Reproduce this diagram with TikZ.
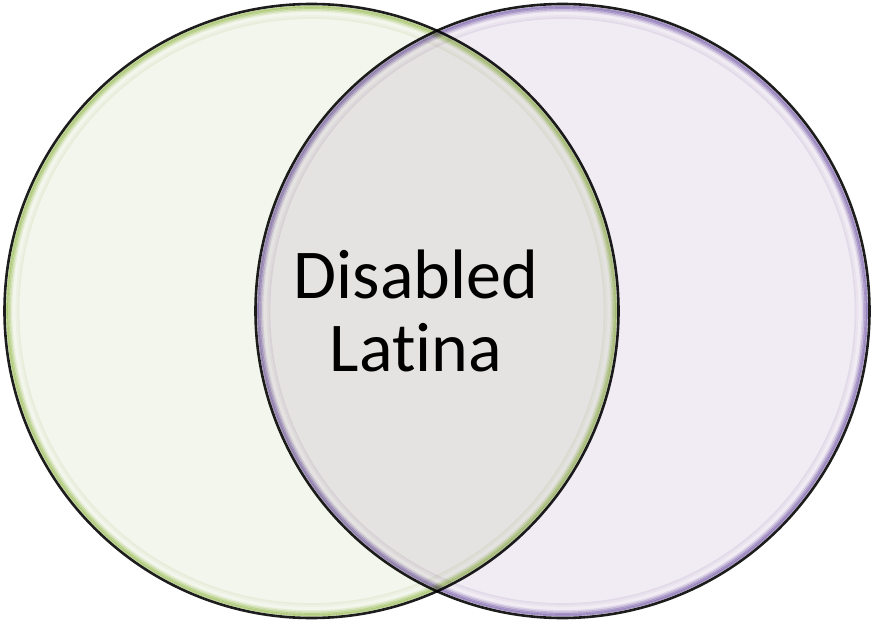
\documentclass[tikz,border=0pt]{standalone}
\usepackage{fontspec}
\setmainfont{Carlito}[Ligatures=NoCommon]
\usepackage{tikz}
\usetikzlibrary{positioning}
\definecolor{limefill}{RGB}{243,246,236}
\definecolor{limerim}{RGB}{196,218,150}
\definecolor{lilacfill}{RGB}{241,236,244}
\definecolor{lilacrim}{RGB}{175,158,208}
\definecolor{ringline}{RGB}{30,30,30}

\begin{document}
\begin{tikzpicture}[x=1pt, y=-1pt,
    venn/.style={circle, draw=ringline, line width=2.6pt, inner sep=0pt,
                 minimum size=614pt},
    % glossy rim painted just inside the border
    gloss/.style={path picture={
        \foreach \d/\c in {14/#1fill, 12/#1fill!50!white, 10/white, 8.5/white,
                           7/#1rim!25!white, 5.5/#1rim!55!white, 4/#1rim!85!white, 2.5/#1rim}
          \draw[\c, line width=1.7pt] (path picture bounding box.center)
               circle[radius={(307-\d)*1pt}];}},
    label/.style={font=\fontsize{70}{73}\selectfont, align=center, text=black}]

\useasboundingbox (0,0) rectangle (873,623);

% two sets, the right one multiplied over the left
\begin{scope}[blend mode=multiply]
\node (lset) [venn, fill=limefill,  gloss=lime]  at (311.5,311) {};
\node (rset) [venn, fill=lilacfill, gloss=lilac] at (562.5,311) {};
\end{scope}

% label in the overlap
\node (both) [label] at (416,311) {Disabled\\Latina};

\end{tikzpicture}
\end{document}
